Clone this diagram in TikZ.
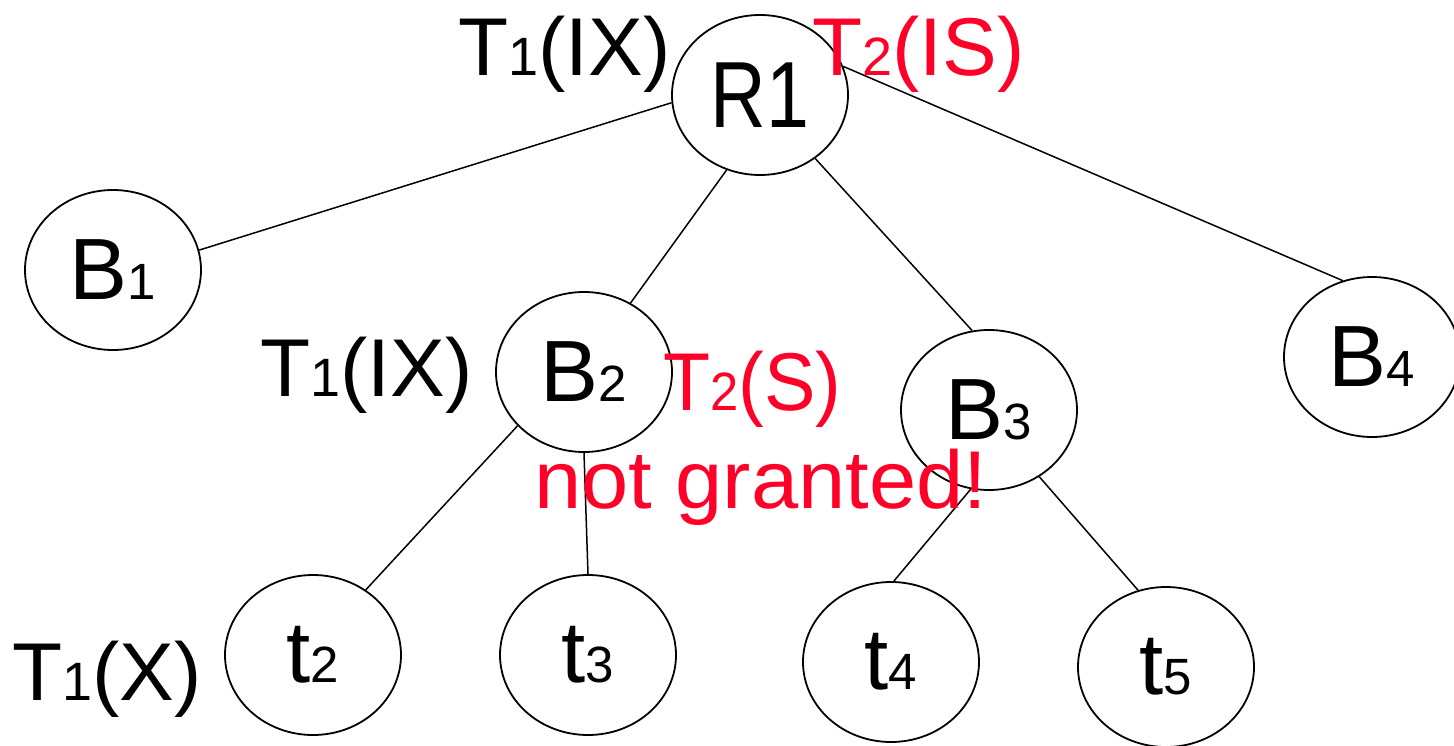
\documentclass[tikz,border=0pt]{standalone}
\usepackage{fontspec}
\usepackage{graphicx}
\setmainfont{Liberation Sans}
\usetikzlibrary{shapes.geometric}
\definecolor{lockred}{RGB}{255,0,40}
\newcommand{\subd}[1]{{\fontsize{54}{54}\selectfont #1}}
\newcommand{\subn}[1]{{\fontsize{51}{51}\selectfont #1}}
\tikzset{
  obj/.style={ellipse, draw=black, line width=1.8pt, minimum width=176pt, minimum height=160pt, inner sep=0pt, font=\fontsize{87}{87}\selectfont},
  conn/.style={line width=1.5pt},
  lab/.style={inner sep=0pt, anchor=base west, font=\fontsize{82}{82}\selectfont},
  redlab/.style={lab, text=lockred}
}
\begin{document}
\begin{tikzpicture}[x=1pt,y=-1pt]
\useasboundingbox (0,0) rectangle (1454,746);
\node[obj] (R1) at (760,95) {\scalebox{0.82}[1]{\fontsize{94}{94}\selectfont R1}};
\node[obj] (B1) at (113,270) {B\subn{1}};
\node[obj] (B2) at (584,372) {B\subn{2}};
\node[obj] (B3) at (989,410) {B\subn{3}};
\node[obj] (B4) at (1372,357) {B\subn{4}};
\node[obj] (t2) at (313,655) {t\subn{2}};
\node[obj] (t3) at (588,655) {t\subn{3}};
\node[obj] (t4) at (891,662) {t\subn{4}};
\node[obj] (t5) at (1166,667) {t\subn{5}};
\draw[conn] (R1.185) -- (B1.13);
\draw[conn] (R1.246) -- (B2.56);
\draw[conn] (R1.311) -- (B3.102);
\draw[conn] (R1.19) -- (B4.111);
\draw[conn] (B2.219) -- (t2.51);
\draw[conn] (B2.270) -- (t3.90);
\draw[conn] (B3.257) -- (t4.88);
\draw[conn] (B3.307) -- (t5.110);
\node[lab] (l1) at (458,76) {T\subd{1}(IX)};
\node[redlab] (l2) at (812,76) {T\subd{2}(IS)};
\node[lab] (l3) at (260,396) {T\subd{1}(IX)};
\node[redlab] (l4) at (663,410) {\scalebox{0.94}[1]{T\subd{2}(S)}};
\node[redlab] (l5) at (534,508) {\scalebox{1.035}[1]{not granted!}};
\node[lab] (l6) at (12,700) {T\subd{1}(X)};
\end{tikzpicture}
\end{document}
